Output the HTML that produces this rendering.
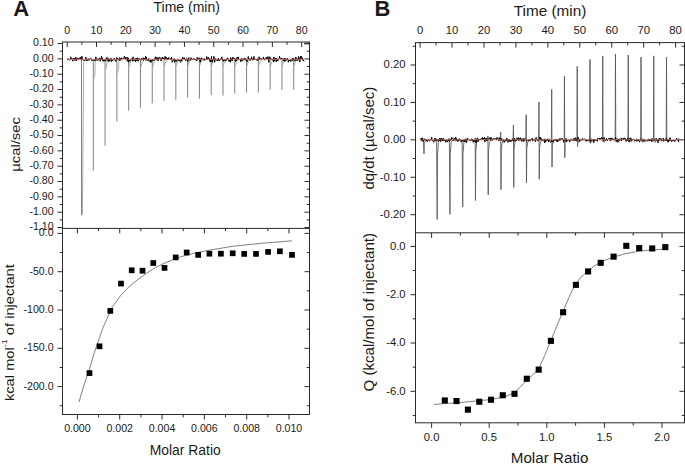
<!DOCTYPE html>
<html><head><meta charset="utf-8"><style>
html,body{margin:0;padding:0;background:#fff;}
body{width:685px;height:464px;overflow:hidden;}
svg{display:block;}
</style></head><body>
<svg width="685" height="464" viewBox="0 0 685 464">
<rect width="685" height="464" fill="#fff"/>
<g font-family='"Liberation Sans", sans-serif' fill="#1a1a1a">
<text x="13.2" y="16" font-size="22" text-anchor="start" font-weight="bold" >A</text>
<text x="374.6" y="16" font-size="22" text-anchor="start" font-weight="bold" >B</text>
<path d="M81.5,59.2 L81.5,215.3" fill="none" stroke="#7a7a7a" stroke-width="0.95"/>
<path d="M81.8,215.3 L82.4,213.3 L83.7,62.2 Q83.9,59.7 86,59.4" fill="none" stroke="#a0a0a0" stroke-width="0.9" stroke-linejoin="round"/>
<path d="M93.29,59.2 L93.29,170.6" fill="none" stroke="#7a7a7a" stroke-width="0.95"/>
<path d="M93.49,79.2 L94.89,75.2 L95.19,61.7 Q95.49,59.7 97.79,59.4" fill="none" stroke="#a0a0a0" stroke-width="0.9" stroke-linejoin="round"/>
<path d="M105.08,59.2 L105.08,145.7" fill="none" stroke="#7a7a7a" stroke-width="0.95"/>
<path d="M105.28,70.2 L106.68,66.2 L106.98,61.7 Q107.28,59.7 109.58,59.4" fill="none" stroke="#a0a0a0" stroke-width="0.9" stroke-linejoin="round"/>
<path d="M116.87,59.2 L116.87,121.6" fill="none" stroke="#7a7a7a" stroke-width="0.95"/>
<path d="M117.07,73.2 L118.47,69.2 L118.77,61.7 Q119.07,59.7 121.37,59.4" fill="none" stroke="#a0a0a0" stroke-width="0.9" stroke-linejoin="round"/>
<path d="M128.66,59.2 L128.66,110.6" fill="none" stroke="#7a7a7a" stroke-width="0.95"/>
<path d="M128.86,67.2 L130.26,63.2 L130.56,61.7 Q130.86,59.7 133.16,59.4" fill="none" stroke="#a0a0a0" stroke-width="0.9" stroke-linejoin="round"/>
<path d="M140.45,59.2 L140.45,107.8" fill="none" stroke="#7a7a7a" stroke-width="0.95"/>
<path d="M140.65,67.2 L142.05,63.2 L142.35,61.7 Q142.65,59.7 144.95,59.4" fill="none" stroke="#a0a0a0" stroke-width="0.9" stroke-linejoin="round"/>
<path d="M152.24,59.2 L152.24,103.4" fill="none" stroke="#7a7a7a" stroke-width="0.95"/>
<path d="M152.44,67.2 L153.84,63.2 L154.14,61.7 Q154.44,59.7 156.74,59.4" fill="none" stroke="#a0a0a0" stroke-width="0.9" stroke-linejoin="round"/>
<path d="M164.03,59.2 L164.03,100.8" fill="none" stroke="#7a7a7a" stroke-width="0.95"/>
<path d="M164.23,66.2 L165.63,62.2 L165.93,61.7 Q166.23,59.7 168.53,59.4" fill="none" stroke="#a0a0a0" stroke-width="0.9" stroke-linejoin="round"/>
<path d="M175.82,59.2 L175.82,99.8" fill="none" stroke="#7a7a7a" stroke-width="0.95"/>
<path d="M176.02,66.2 L177.42,62.2 L177.72,61.7 Q178.02,59.7 180.32,59.4" fill="none" stroke="#a0a0a0" stroke-width="0.9" stroke-linejoin="round"/>
<path d="M187.61,59.2 L187.61,97.6" fill="none" stroke="#7a7a7a" stroke-width="0.95"/>
<path d="M187.81,66.2 L189.21,62.2 L189.51,61.7 Q189.81,59.7 192.11,59.4" fill="none" stroke="#a0a0a0" stroke-width="0.9" stroke-linejoin="round"/>
<path d="M199.4,59.2 L199.4,98.7" fill="none" stroke="#7a7a7a" stroke-width="0.95"/>
<path d="M199.6,66.2 L201,62.2 L201.3,61.7 Q201.6,59.7 203.9,59.4" fill="none" stroke="#a0a0a0" stroke-width="0.9" stroke-linejoin="round"/>
<path d="M211.19,59.2 L211.19,95.2" fill="none" stroke="#7a7a7a" stroke-width="0.95"/>
<path d="M211.39,66.2 L212.79,62.2 L213.09,61.7 Q213.39,59.7 215.69,59.4" fill="none" stroke="#a0a0a0" stroke-width="0.9" stroke-linejoin="round"/>
<path d="M222.98,59.2 L222.98,95.6" fill="none" stroke="#7a7a7a" stroke-width="0.95"/>
<path d="M223.18,66.2 L224.58,62.2 L224.88,61.7 Q225.18,59.7 227.48,59.4" fill="none" stroke="#a0a0a0" stroke-width="0.9" stroke-linejoin="round"/>
<path d="M234.77,59.2 L234.77,93.5" fill="none" stroke="#7a7a7a" stroke-width="0.95"/>
<path d="M234.97,66.2 L236.37,62.2 L236.67,61.7 Q236.97,59.7 239.27,59.4" fill="none" stroke="#a0a0a0" stroke-width="0.9" stroke-linejoin="round"/>
<path d="M246.56,59.2 L246.56,92.5" fill="none" stroke="#7a7a7a" stroke-width="0.95"/>
<path d="M246.76,66.2 L248.16,62.2 L248.46,61.7 Q248.76,59.7 251.06,59.4" fill="none" stroke="#a0a0a0" stroke-width="0.9" stroke-linejoin="round"/>
<path d="M258.35,59.2 L258.35,92.5" fill="none" stroke="#7a7a7a" stroke-width="0.95"/>
<path d="M258.55,66.2 L259.95,62.2 L260.25,61.7 Q260.55,59.7 262.85,59.4" fill="none" stroke="#a0a0a0" stroke-width="0.9" stroke-linejoin="round"/>
<path d="M270.14,59.2 L270.14,89.7" fill="none" stroke="#7a7a7a" stroke-width="0.95"/>
<path d="M270.34,66.2 L271.74,62.2 L272.04,61.7 Q272.34,59.7 274.64,59.4" fill="none" stroke="#a0a0a0" stroke-width="0.9" stroke-linejoin="round"/>
<path d="M281.93,59.2 L281.93,90.1" fill="none" stroke="#7a7a7a" stroke-width="0.95"/>
<path d="M282.13,66.2 L283.53,62.2 L283.83,61.7 Q284.13,59.7 286.43,59.4" fill="none" stroke="#a0a0a0" stroke-width="0.9" stroke-linejoin="round"/>
<path d="M293.72,59.2 L293.72,89.7" fill="none" stroke="#7a7a7a" stroke-width="0.95"/>
<path d="M293.92,66.2 L295.32,62.2 L295.62,61.7 Q295.92,59.7 298.22,59.4" fill="none" stroke="#a0a0a0" stroke-width="0.9" stroke-linejoin="round"/>
<path d="M67.5,59.85 L67.9,58.82 L68.3,58.74 L68.7,59.83 L69.1,59.87 L69.5,59.83 L69.9,60.17 L70.3,59.9 L70.7,56.8 L71.1,58.2 L71.5,58.89 L71.9,58.37 L72.3,59.72 L72.7,61.16 L73.1,60.71 L73.5,58.24 L73.9,58.95 L74.3,59.57 L74.7,58.02 L75.1,60.54 L75.5,59.22 L75.9,57.31 L76.3,60.72 L76.7,58.31 L77.1,57.81 L77.5,58.94 L77.9,59.71 L78.3,60.13 L78.7,59.84 L79.1,57.85 L79.5,58.8 L79.9,57.86 L80.3,58.49 L80.7,57.04 L81.1,59.38 L81.5,60.17 L81.9,56.3 L82.3,58.25 L82.7,60.07 L83.1,59.43 L83.5,59.84 L83.9,60.44 L84.3,60.4 L84.7,60.81 L85.1,60.15 L85.5,58.23 L85.9,57.08 L86.3,60.45 L86.7,60.85 L87.1,58.95 L87.5,60.02 L87.9,60.66 L88.3,58.63 L88.7,59.44 L89.1,60.31 L89.5,59.02 L89.9,59.01 L90.3,58.8 L90.7,58.29 L91.1,58.26 L91.5,60.26 L91.9,60.76 L92.3,59.9 L92.7,60.37 L93.1,59.89 L93.5,59.65 L93.9,60.44 L94.3,60.54 L94.7,59.43 L95.1,60.87 L95.5,60.05 L95.9,56.89 L96.3,59.86 L96.7,59.89 L97.1,60.23 L97.5,58.86 L97.9,60.46 L98.3,59.63 L98.7,59.53 L99.1,58.31 L99.5,57.81 L99.9,60.36 L100.3,61.23 L100.7,58.58 L101.1,59.73 L101.5,56.3 L101.9,57.83 L102.3,57.89 L102.7,61.08 L103.1,59.77 L103.5,59.85 L103.9,61.42 L104.3,59.43 L104.7,58.97 L105.1,60.03 L105.5,61.02 L105.9,60.82 L106.3,57.72 L106.7,58.48 L107.1,57.56 L107.5,60.52 L107.9,58.79 L108.3,58.42 L108.7,61.78 L109.1,61.42 L109.5,59.52 L109.9,60.86 L110.3,58.45 L110.7,59.79 L111.1,58.43 L111.5,61.64 L111.9,59.88 L112.3,60.98 L112.7,59.84 L113.1,59.64 L113.5,58.81 L113.9,59.82 L114.3,58.27 L114.7,60.06 L115.1,60.72 L115.5,60.4 L115.9,61.47 L116.3,60.38 L116.7,57.57 L117.1,59.77 L117.5,58.34 L117.9,58.46 L118.3,58.8 L118.7,59.16 L119.1,60.47 L119.5,57.72 L119.9,60.4 L120.3,58.03 L120.7,60.05 L121.1,60.11 L121.5,57.8 L121.9,58.09 L122.3,58.49 L122.7,58.05 L123.1,58.53 L123.5,58.95 L123.9,58.5 L124.3,56.3 L124.7,58.26 L125.1,57.14 L125.5,57.93 L125.9,59.73 L126.3,59.48 L126.7,60.24 L127.1,57.03 L127.5,61.27 L127.9,58.98 L128.3,57.85 L128.7,62.3 L129.1,60.42 L129.5,59.84 L129.9,61.07 L130.3,59.52 L130.7,60.62 L131.1,59.32 L131.5,58.83 L131.9,59.61 L132.3,58.23 L132.7,61.26 L133.1,56.82 L133.5,60.53 L133.9,60.74 L134.3,60.65 L134.7,60.65 L135.1,58.63 L135.5,61.92 L135.9,58.53 L136.3,59.61 L136.7,58.11 L137.1,61.04 L137.5,57.79 L137.9,60.98 L138.3,61.1 L138.7,60.07 L139.1,58.25 L139.5,59.79 L139.9,58.87 L140.3,59.63 L140.7,59.61 L141.1,60.22 L141.5,58.3 L141.9,59.14 L142.3,59.33 L142.7,59.39 L143.1,57.66 L143.5,60.56 L143.9,59.17 L144.3,58.33 L144.7,59.07 L145.1,59.72 L145.5,56.3 L145.9,60.44 L146.3,56.96 L146.7,59.18 L147.1,59.04 L147.5,60.13 L147.9,59.99 L148.3,60.84 L148.7,58.55 L149.1,60.58 L149.5,60.83 L149.9,60.73 L150.3,62.3 L150.7,59.52 L151.1,62.3 L151.5,60.59 L151.9,59.74 L152.3,59.59 L152.7,60.79 L153.1,59.63 L153.5,60.39 L153.9,59.77 L154.3,60.39 L154.7,58.5 L155.1,57.51 L155.5,56.76 L155.9,59.71 L156.3,59.16 L156.7,57.48 L157.1,60.26 L157.5,58.78 L157.9,57.5 L158.3,60.92 L158.7,59.18 L159.1,57.29 L159.5,57.67 L159.9,57.18 L160.3,59.26 L160.7,60.02 L161.1,60.96 L161.5,58.59 L161.9,57.67 L162.3,59.02 L162.7,57.28 L163.1,58.88 L163.5,58.57 L163.9,58.09 L164.3,59.65 L164.7,58.41 L165.1,56.3 L165.5,59.02 L165.9,58.92 L166.3,57.19 L166.7,58.5 L167.1,59.8 L167.5,58.09 L167.9,59.03 L168.3,59.68 L168.7,57.52 L169.1,58.2 L169.5,58.72 L169.9,58.96 L170.3,58.56 L170.7,59.27 L171.1,60 L171.5,57.16 L171.9,59.98 L172.3,62.3 L172.7,61.28 L173.1,60.97 L173.5,59.66 L173.9,58.57 L174.3,58.81 L174.7,62.3 L175.1,59.79 L175.5,59.98 L175.9,59.94 L176.3,60.55 L176.7,61.54 L177.1,59.83 L177.5,59.26 L177.9,59.17 L178.3,59.46 L178.7,60.58 L179.1,59.95 L179.5,60.64 L179.9,59.95 L180.3,61.25 L180.7,62.3 L181.1,60.52 L181.5,59.31 L181.9,61.08 L182.3,57.88 L182.7,57.02 L183.1,58.76 L183.5,58.92 L183.9,57.96 L184.3,57.56 L184.7,59.64 L185.1,59.11 L185.5,59.34 L185.9,60.94 L186.3,59.16 L186.7,58.34 L187.1,58.56 L187.5,59.74 L187.9,61.81 L188.3,59.14 L188.7,57.59 L189.1,59.8 L189.5,60.06 L189.9,59.9 L190.3,60.37 L190.7,57.9 L191.1,57.79 L191.5,59.58 L191.9,59.53 L192.3,59.42 L192.7,59.1 L193.1,58.87 L193.5,58.46 L193.9,60.01 L194.3,59.7 L194.7,58.79 L195.1,59.28 L195.5,60.18 L195.9,59.09 L196.3,59.78 L196.7,60.99 L197.1,57.39 L197.5,59.47 L197.9,60.11 L198.3,58.98 L198.7,58.92 L199.1,57.67 L199.5,59.41 L199.9,59.99 L200.3,62.18 L200.7,58.52 L201.1,60.11 L201.5,57.77 L201.9,59.57 L202.3,58.72 L202.7,59.45 L203.1,58.85 L203.5,60.2 L203.9,58.9 L204.3,58.63 L204.7,60.41 L205.1,59.37 L205.5,59.94 L205.9,59.28 L206.3,59.56 L206.7,56.5 L207.1,59.28 L207.5,59.97 L207.9,58.19 L208.3,57.23 L208.7,58.96 L209.1,59.06 L209.5,58.55 L209.9,61.4 L210.3,62.06 L210.7,59.1 L211.1,60.39 L211.5,56.37 L211.9,60.08 L212.3,62.3 L212.7,59.66 L213.1,60.01 L213.5,58.43 L213.9,56.3 L214.3,59.37 L214.7,62.3 L215.1,59.5 L215.5,58.58 L215.9,60.14 L216.3,59.45 L216.7,60.41 L217.1,59.26 L217.5,59.38 L217.9,60.98 L218.3,58.21 L218.7,60.02 L219.1,61.1 L219.5,60.35 L219.9,59.15 L220.3,60.12 L220.7,58.68 L221.1,59.26 L221.5,58.91 L221.9,56.77 L222.3,60.04 L222.7,59.13 L223.1,61.38 L223.5,60.25 L223.9,59.8 L224.3,59.11 L224.7,59.78 L225.1,61.14 L225.5,59.47 L225.9,60.53 L226.3,60.15 L226.7,59.31 L227.1,57.84 L227.5,57.95 L227.9,58.87 L228.3,60.42 L228.7,58.92 L229.1,61.4 L229.5,59.9 L229.9,60.05 L230.3,62.3 L230.7,57.48 L231.1,60.24 L231.5,60.68 L231.9,58.44 L232.3,60.88 L232.7,58.08 L233.1,56.98 L233.5,58.72 L233.9,58.52 L234.3,58.66 L234.7,58.36 L235.1,60.09 L235.5,61.54 L235.9,58.77 L236.3,60.96 L236.7,58.59 L237.1,57.26 L237.5,59.05 L237.9,59.04 L238.3,56.86 L238.7,59.58 L239.1,59.97 L239.5,59.46 L239.9,59.36 L240.3,58.94 L240.7,61.84 L241.1,59.59 L241.5,58.46 L241.9,60.56 L242.3,60.14 L242.7,61.08 L243.1,58.67 L243.5,59.61 L243.9,58.73 L244.3,60.09 L244.7,57.96 L245.1,59.71 L245.5,60.14 L245.9,58.76 L246.3,60.97 L246.7,59.73 L247.1,61.79 L247.5,60.38 L247.9,59.84 L248.3,56.44 L248.7,59.94 L249.1,58.51 L249.5,59.92 L249.9,60.35 L250.3,60.29 L250.7,59.02 L251.1,59.38 L251.5,56.88 L251.9,60.17 L252.3,60.12 L252.7,60.03 L253.1,58.35 L253.5,59.93 L253.9,56.36 L254.3,59.94 L254.7,58.81 L255.1,59.79 L255.5,59.33 L255.9,59.08 L256.3,59.31 L256.7,59.03 L257.1,60.67 L257.5,58.75 L257.9,60.63 L258.3,59.05 L258.7,59.97 L259.1,56.72 L259.5,59.95 L259.9,59.17 L260.3,59.02 L260.7,58.35 L261.1,58.37 L261.5,59.63 L261.9,59.43 L262.3,58.95 L262.7,59.26 L263.1,58.95 L263.5,56.93 L263.9,59.12 L264.3,58.98 L264.7,60.06 L265.1,60.1 L265.5,59.28 L265.9,58.86 L266.3,57.14 L266.7,59.12 L267.1,58.91 L267.5,58.94 L267.9,56.54 L268.3,57.36 L268.7,62.3 L269.1,59.2 L269.5,58.86 L269.9,56.68 L270.3,60.01 L270.7,58.81 L271.1,59.04 L271.5,59 L271.9,58.97 L272.3,60.02 L272.7,58.9 L273.1,59.34 L273.5,61.88 L273.9,56.93 L274.3,61.29 L274.7,60.62 L275.1,58.57 L275.5,58.52 L275.9,57.92 L276.3,62.06 L276.7,58.62 L277.1,58.61 L277.5,59.69 L277.9,61 L278.3,59.53 L278.7,58.89 L279.1,58.52 L279.5,56.3 L279.9,57.76 L280.3,58.86 L280.7,59.17 L281.1,58.04 L281.5,58.26 L281.9,59.38 L282.3,58.62 L282.7,59.17 L283.1,60.05 L283.5,60.96 L283.9,58.81 L284.3,58.1 L284.7,61.59 L285.1,60.13 L285.5,60.67 L285.9,58.39 L286.3,60.18 L286.7,60.04 L287.1,59.16 L287.5,58.34 L287.9,58.96 L288.3,62.23 L288.7,60.26 L289.1,60.09 L289.5,60.67 L289.9,60.22 L290.3,59.83 L290.7,61.58 L291.1,59.45 L291.5,58.86 L291.9,60.36 L292.3,60.63 L292.7,57.98 L293.1,60.29 L293.5,58.66 L293.9,58.54 L294.3,60.32 L294.7,60.01 L295.1,61.11 L295.5,57.04 L295.9,58.27 L296.3,58.54 L296.7,57.69 L297.1,60.82 L297.5,59.13 L297.9,59.2 L298.3,60.2 L298.7,56.41 L299.1,58.22 L299.5,58.72 L299.9,62.07 L300.3,57.82 L300.7,56.3 L301.1,58.93 L301.5,56.3 L301.9,59.05 L302.3,57.88 L302.7,60.22 L303.1,60.44 L303.5,59.48 L303.9,61.41" fill="none" stroke="#000" stroke-width="1"/>
<line x1="67.5" y1="59.3" x2="303.5" y2="59.3" stroke="#f07878" stroke-width="0.75"/>
<rect x="304" y="42.3" width="5" height="2.3" fill="#999"/>
<rect x="62.5" y="42.0" width="247" height="372.5" fill="none" stroke="#2a2a2a" stroke-width="1.0"/>
<line x1="62.5" y1="228.4" x2="309.5" y2="228.4" stroke="#2a2a2a" stroke-width="1.0"/>
<line x1="67.2" y1="42" x2="67.2" y2="47" stroke="#2a2a2a" stroke-width="1.0"/>
<text x="67.2" y="33.7" font-size="10.6" text-anchor="middle" font-weight="normal" >0</text>
<line x1="81.86" y1="42" x2="81.86" y2="44.8" stroke="#2a2a2a" stroke-width="1.0"/>
<line x1="96.51" y1="42" x2="96.51" y2="47" stroke="#2a2a2a" stroke-width="1.0"/>
<text x="96.51" y="33.7" font-size="10.6" text-anchor="middle" font-weight="normal" >10</text>
<line x1="111.17" y1="42" x2="111.17" y2="44.8" stroke="#2a2a2a" stroke-width="1.0"/>
<line x1="125.82" y1="42" x2="125.82" y2="47" stroke="#2a2a2a" stroke-width="1.0"/>
<text x="125.82" y="33.7" font-size="10.6" text-anchor="middle" font-weight="normal" >20</text>
<line x1="140.48" y1="42" x2="140.48" y2="44.8" stroke="#2a2a2a" stroke-width="1.0"/>
<line x1="155.13" y1="42" x2="155.13" y2="47" stroke="#2a2a2a" stroke-width="1.0"/>
<text x="155.13" y="33.7" font-size="10.6" text-anchor="middle" font-weight="normal" >30</text>
<line x1="169.79" y1="42" x2="169.79" y2="44.8" stroke="#2a2a2a" stroke-width="1.0"/>
<line x1="184.44" y1="42" x2="184.44" y2="47" stroke="#2a2a2a" stroke-width="1.0"/>
<text x="184.44" y="33.7" font-size="10.6" text-anchor="middle" font-weight="normal" >40</text>
<line x1="199.1" y1="42" x2="199.1" y2="44.8" stroke="#2a2a2a" stroke-width="1.0"/>
<line x1="213.75" y1="42" x2="213.75" y2="47" stroke="#2a2a2a" stroke-width="1.0"/>
<text x="213.75" y="33.7" font-size="10.6" text-anchor="middle" font-weight="normal" >50</text>
<line x1="228.41" y1="42" x2="228.41" y2="44.8" stroke="#2a2a2a" stroke-width="1.0"/>
<line x1="243.06" y1="42" x2="243.06" y2="47" stroke="#2a2a2a" stroke-width="1.0"/>
<text x="243.06" y="33.7" font-size="10.6" text-anchor="middle" font-weight="normal" >60</text>
<line x1="257.72" y1="42" x2="257.72" y2="44.8" stroke="#2a2a2a" stroke-width="1.0"/>
<line x1="272.37" y1="42" x2="272.37" y2="47" stroke="#2a2a2a" stroke-width="1.0"/>
<text x="272.37" y="33.7" font-size="10.6" text-anchor="middle" font-weight="normal" >70</text>
<line x1="287.03" y1="42" x2="287.03" y2="44.8" stroke="#2a2a2a" stroke-width="1.0"/>
<line x1="301.68" y1="42" x2="301.68" y2="47" stroke="#2a2a2a" stroke-width="1.0"/>
<text x="301.68" y="33.7" font-size="10.6" text-anchor="middle" font-weight="normal" >80</text>
<text x="186.75" y="11.9" font-size="14" text-anchor="middle" font-weight="normal" >Time (min)</text>
<line x1="57.5" y1="227.53" x2="62.5" y2="227.53" stroke="#2a2a2a" stroke-width="1.0"/>
<line x1="309.5" y1="227.53" x2="304.5" y2="227.53" stroke="#2a2a2a" stroke-width="1.0"/>
<text x="53.6" y="230.43" font-size="10.6" text-anchor="end" font-weight="normal" >-1.10</text>
<line x1="59.7" y1="219.87" x2="62.5" y2="219.87" stroke="#2a2a2a" stroke-width="1.0"/>
<line x1="309.5" y1="219.87" x2="306.7" y2="219.87" stroke="#2a2a2a" stroke-width="1.0"/>
<line x1="57.5" y1="212.2" x2="62.5" y2="212.2" stroke="#2a2a2a" stroke-width="1.0"/>
<line x1="309.5" y1="212.2" x2="304.5" y2="212.2" stroke="#2a2a2a" stroke-width="1.0"/>
<text x="53.6" y="215.1" font-size="10.6" text-anchor="end" font-weight="normal" >-1.00</text>
<line x1="59.7" y1="204.54" x2="62.5" y2="204.54" stroke="#2a2a2a" stroke-width="1.0"/>
<line x1="309.5" y1="204.54" x2="306.7" y2="204.54" stroke="#2a2a2a" stroke-width="1.0"/>
<line x1="57.5" y1="196.87" x2="62.5" y2="196.87" stroke="#2a2a2a" stroke-width="1.0"/>
<line x1="309.5" y1="196.87" x2="304.5" y2="196.87" stroke="#2a2a2a" stroke-width="1.0"/>
<text x="53.6" y="199.77" font-size="10.6" text-anchor="end" font-weight="normal" >-0.90</text>
<line x1="59.7" y1="189.21" x2="62.5" y2="189.21" stroke="#2a2a2a" stroke-width="1.0"/>
<line x1="309.5" y1="189.21" x2="306.7" y2="189.21" stroke="#2a2a2a" stroke-width="1.0"/>
<line x1="57.5" y1="181.54" x2="62.5" y2="181.54" stroke="#2a2a2a" stroke-width="1.0"/>
<line x1="309.5" y1="181.54" x2="304.5" y2="181.54" stroke="#2a2a2a" stroke-width="1.0"/>
<text x="53.6" y="184.44" font-size="10.6" text-anchor="end" font-weight="normal" >-0.80</text>
<line x1="59.7" y1="173.88" x2="62.5" y2="173.88" stroke="#2a2a2a" stroke-width="1.0"/>
<line x1="309.5" y1="173.88" x2="306.7" y2="173.88" stroke="#2a2a2a" stroke-width="1.0"/>
<line x1="57.5" y1="166.21" x2="62.5" y2="166.21" stroke="#2a2a2a" stroke-width="1.0"/>
<line x1="309.5" y1="166.21" x2="304.5" y2="166.21" stroke="#2a2a2a" stroke-width="1.0"/>
<text x="53.6" y="169.11" font-size="10.6" text-anchor="end" font-weight="normal" >-0.70</text>
<line x1="59.7" y1="158.55" x2="62.5" y2="158.55" stroke="#2a2a2a" stroke-width="1.0"/>
<line x1="309.5" y1="158.55" x2="306.7" y2="158.55" stroke="#2a2a2a" stroke-width="1.0"/>
<line x1="57.5" y1="150.88" x2="62.5" y2="150.88" stroke="#2a2a2a" stroke-width="1.0"/>
<line x1="309.5" y1="150.88" x2="304.5" y2="150.88" stroke="#2a2a2a" stroke-width="1.0"/>
<text x="53.6" y="153.78" font-size="10.6" text-anchor="end" font-weight="normal" >-0.60</text>
<line x1="59.7" y1="143.22" x2="62.5" y2="143.22" stroke="#2a2a2a" stroke-width="1.0"/>
<line x1="309.5" y1="143.22" x2="306.7" y2="143.22" stroke="#2a2a2a" stroke-width="1.0"/>
<line x1="57.5" y1="135.55" x2="62.5" y2="135.55" stroke="#2a2a2a" stroke-width="1.0"/>
<line x1="309.5" y1="135.55" x2="304.5" y2="135.55" stroke="#2a2a2a" stroke-width="1.0"/>
<text x="53.6" y="138.45" font-size="10.6" text-anchor="end" font-weight="normal" >-0.50</text>
<line x1="59.7" y1="127.89" x2="62.5" y2="127.89" stroke="#2a2a2a" stroke-width="1.0"/>
<line x1="309.5" y1="127.89" x2="306.7" y2="127.89" stroke="#2a2a2a" stroke-width="1.0"/>
<line x1="57.5" y1="120.22" x2="62.5" y2="120.22" stroke="#2a2a2a" stroke-width="1.0"/>
<line x1="309.5" y1="120.22" x2="304.5" y2="120.22" stroke="#2a2a2a" stroke-width="1.0"/>
<text x="53.6" y="123.12" font-size="10.6" text-anchor="end" font-weight="normal" >-0.40</text>
<line x1="59.7" y1="112.56" x2="62.5" y2="112.56" stroke="#2a2a2a" stroke-width="1.0"/>
<line x1="309.5" y1="112.56" x2="306.7" y2="112.56" stroke="#2a2a2a" stroke-width="1.0"/>
<line x1="57.5" y1="104.89" x2="62.5" y2="104.89" stroke="#2a2a2a" stroke-width="1.0"/>
<line x1="309.5" y1="104.89" x2="304.5" y2="104.89" stroke="#2a2a2a" stroke-width="1.0"/>
<text x="53.6" y="107.79" font-size="10.6" text-anchor="end" font-weight="normal" >-0.30</text>
<line x1="59.7" y1="97.22" x2="62.5" y2="97.22" stroke="#2a2a2a" stroke-width="1.0"/>
<line x1="309.5" y1="97.22" x2="306.7" y2="97.22" stroke="#2a2a2a" stroke-width="1.0"/>
<line x1="57.5" y1="89.56" x2="62.5" y2="89.56" stroke="#2a2a2a" stroke-width="1.0"/>
<line x1="309.5" y1="89.56" x2="304.5" y2="89.56" stroke="#2a2a2a" stroke-width="1.0"/>
<text x="53.6" y="92.46" font-size="10.6" text-anchor="end" font-weight="normal" >-0.20</text>
<line x1="59.7" y1="81.9" x2="62.5" y2="81.9" stroke="#2a2a2a" stroke-width="1.0"/>
<line x1="309.5" y1="81.9" x2="306.7" y2="81.9" stroke="#2a2a2a" stroke-width="1.0"/>
<line x1="57.5" y1="74.23" x2="62.5" y2="74.23" stroke="#2a2a2a" stroke-width="1.0"/>
<line x1="309.5" y1="74.23" x2="304.5" y2="74.23" stroke="#2a2a2a" stroke-width="1.0"/>
<text x="53.6" y="77.13" font-size="10.6" text-anchor="end" font-weight="normal" >-0.10</text>
<line x1="59.7" y1="66.56" x2="62.5" y2="66.56" stroke="#2a2a2a" stroke-width="1.0"/>
<line x1="309.5" y1="66.56" x2="306.7" y2="66.56" stroke="#2a2a2a" stroke-width="1.0"/>
<line x1="57.5" y1="58.9" x2="62.5" y2="58.9" stroke="#2a2a2a" stroke-width="1.0"/>
<line x1="309.5" y1="58.9" x2="304.5" y2="58.9" stroke="#2a2a2a" stroke-width="1.0"/>
<text x="53.6" y="61.8" font-size="10.6" text-anchor="end" font-weight="normal" >0.00</text>
<line x1="59.7" y1="51.23" x2="62.5" y2="51.23" stroke="#2a2a2a" stroke-width="1.0"/>
<line x1="309.5" y1="51.23" x2="306.7" y2="51.23" stroke="#2a2a2a" stroke-width="1.0"/>
<line x1="57.5" y1="43.57" x2="62.5" y2="43.57" stroke="#2a2a2a" stroke-width="1.0"/>
<line x1="309.5" y1="43.57" x2="304.5" y2="43.57" stroke="#2a2a2a" stroke-width="1.0"/>
<text x="53.6" y="46.47" font-size="10.6" text-anchor="end" font-weight="normal" >0.10</text>
<text x="0" y="0" font-size="14.8" text-anchor="middle" font-weight="normal" transform="translate(19.9,144.4) rotate(-90) scale(1,0.9)">&#181;cal/sec</text>
<line x1="77.4" y1="414.5" x2="77.4" y2="419.5" stroke="#2a2a2a" stroke-width="1.0"/>
<line x1="77.4" y1="228.4" x2="77.4" y2="233.4" stroke="#2a2a2a" stroke-width="1.0"/>
<text x="77.4" y="432.4" font-size="10.6" text-anchor="middle" font-weight="normal" >0.000</text>
<line x1="98.56" y1="414.5" x2="98.56" y2="417.3" stroke="#2a2a2a" stroke-width="1.0"/>
<line x1="98.56" y1="228.4" x2="98.56" y2="231.2" stroke="#2a2a2a" stroke-width="1.0"/>
<line x1="119.72" y1="414.5" x2="119.72" y2="419.5" stroke="#2a2a2a" stroke-width="1.0"/>
<line x1="119.72" y1="228.4" x2="119.72" y2="233.4" stroke="#2a2a2a" stroke-width="1.0"/>
<text x="119.72" y="432.4" font-size="10.6" text-anchor="middle" font-weight="normal" >0.002</text>
<line x1="140.88" y1="414.5" x2="140.88" y2="417.3" stroke="#2a2a2a" stroke-width="1.0"/>
<line x1="140.88" y1="228.4" x2="140.88" y2="231.2" stroke="#2a2a2a" stroke-width="1.0"/>
<line x1="162.04" y1="414.5" x2="162.04" y2="419.5" stroke="#2a2a2a" stroke-width="1.0"/>
<line x1="162.04" y1="228.4" x2="162.04" y2="233.4" stroke="#2a2a2a" stroke-width="1.0"/>
<text x="162.04" y="432.4" font-size="10.6" text-anchor="middle" font-weight="normal" >0.004</text>
<line x1="183.2" y1="414.5" x2="183.2" y2="417.3" stroke="#2a2a2a" stroke-width="1.0"/>
<line x1="183.2" y1="228.4" x2="183.2" y2="231.2" stroke="#2a2a2a" stroke-width="1.0"/>
<line x1="204.36" y1="414.5" x2="204.36" y2="419.5" stroke="#2a2a2a" stroke-width="1.0"/>
<line x1="204.36" y1="228.4" x2="204.36" y2="233.4" stroke="#2a2a2a" stroke-width="1.0"/>
<text x="204.36" y="432.4" font-size="10.6" text-anchor="middle" font-weight="normal" >0.006</text>
<line x1="225.52" y1="414.5" x2="225.52" y2="417.3" stroke="#2a2a2a" stroke-width="1.0"/>
<line x1="225.52" y1="228.4" x2="225.52" y2="231.2" stroke="#2a2a2a" stroke-width="1.0"/>
<line x1="246.68" y1="414.5" x2="246.68" y2="419.5" stroke="#2a2a2a" stroke-width="1.0"/>
<line x1="246.68" y1="228.4" x2="246.68" y2="233.4" stroke="#2a2a2a" stroke-width="1.0"/>
<text x="246.68" y="432.4" font-size="10.6" text-anchor="middle" font-weight="normal" >0.008</text>
<line x1="267.84" y1="414.5" x2="267.84" y2="417.3" stroke="#2a2a2a" stroke-width="1.0"/>
<line x1="267.84" y1="228.4" x2="267.84" y2="231.2" stroke="#2a2a2a" stroke-width="1.0"/>
<line x1="289" y1="414.5" x2="289" y2="419.5" stroke="#2a2a2a" stroke-width="1.0"/>
<line x1="289" y1="228.4" x2="289" y2="233.4" stroke="#2a2a2a" stroke-width="1.0"/>
<text x="289" y="432.4" font-size="10.6" text-anchor="middle" font-weight="normal" >0.010</text>
<line x1="57.5" y1="233.4" x2="62.5" y2="233.4" stroke="#2a2a2a" stroke-width="1.0"/>
<line x1="309.5" y1="233.4" x2="304.5" y2="233.4" stroke="#2a2a2a" stroke-width="1.0"/>
<text x="53.6" y="236.3" font-size="10.6" text-anchor="end" font-weight="normal" >0.0</text>
<line x1="59.7" y1="252.55" x2="62.5" y2="252.55" stroke="#2a2a2a" stroke-width="1.0"/>
<line x1="309.5" y1="252.55" x2="306.7" y2="252.55" stroke="#2a2a2a" stroke-width="1.0"/>
<line x1="57.5" y1="271.7" x2="62.5" y2="271.7" stroke="#2a2a2a" stroke-width="1.0"/>
<line x1="309.5" y1="271.7" x2="304.5" y2="271.7" stroke="#2a2a2a" stroke-width="1.0"/>
<text x="53.6" y="274.6" font-size="10.6" text-anchor="end" font-weight="normal" >-50.0</text>
<line x1="59.7" y1="290.85" x2="62.5" y2="290.85" stroke="#2a2a2a" stroke-width="1.0"/>
<line x1="309.5" y1="290.85" x2="306.7" y2="290.85" stroke="#2a2a2a" stroke-width="1.0"/>
<line x1="57.5" y1="310" x2="62.5" y2="310" stroke="#2a2a2a" stroke-width="1.0"/>
<line x1="309.5" y1="310" x2="304.5" y2="310" stroke="#2a2a2a" stroke-width="1.0"/>
<text x="53.6" y="312.9" font-size="10.6" text-anchor="end" font-weight="normal" >-100.0</text>
<line x1="59.7" y1="329.15" x2="62.5" y2="329.15" stroke="#2a2a2a" stroke-width="1.0"/>
<line x1="309.5" y1="329.15" x2="306.7" y2="329.15" stroke="#2a2a2a" stroke-width="1.0"/>
<line x1="57.5" y1="348.3" x2="62.5" y2="348.3" stroke="#2a2a2a" stroke-width="1.0"/>
<line x1="309.5" y1="348.3" x2="304.5" y2="348.3" stroke="#2a2a2a" stroke-width="1.0"/>
<text x="53.6" y="351.2" font-size="10.6" text-anchor="end" font-weight="normal" >-150.0</text>
<line x1="59.7" y1="367.45" x2="62.5" y2="367.45" stroke="#2a2a2a" stroke-width="1.0"/>
<line x1="309.5" y1="367.45" x2="306.7" y2="367.45" stroke="#2a2a2a" stroke-width="1.0"/>
<line x1="57.5" y1="386.6" x2="62.5" y2="386.6" stroke="#2a2a2a" stroke-width="1.0"/>
<line x1="309.5" y1="386.6" x2="304.5" y2="386.6" stroke="#2a2a2a" stroke-width="1.0"/>
<text x="53.6" y="389.5" font-size="10.6" text-anchor="end" font-weight="normal" >-200.0</text>
<line x1="59.7" y1="405.75" x2="62.5" y2="405.75" stroke="#2a2a2a" stroke-width="1.0"/>
<line x1="309.5" y1="405.75" x2="306.7" y2="405.75" stroke="#2a2a2a" stroke-width="1.0"/>
<text x="185.2" y="455.2" font-size="13.9" text-anchor="middle" font-weight="normal" >Molar Ratio</text>
<text x="0" y="0" font-size="14.7" text-anchor="middle" font-weight="normal" transform="translate(14.0,332.6) rotate(-90) scale(1,0.88)">kcal mol<tspan font-size="9" dy="-7.8">-1</tspan><tspan dy="7.8"> of injectant</tspan></text>
<path d="M78.9,402.3 L84,385 L89.5,369 L94.5,352 L99.5,337.5 L103,327.5 L107.1,318.5 L112.2,307.2 L120.9,295.2 L129.5,286.2 L138.1,279.3 L146.7,273.1 L155.3,267.6 L164,263.4 L172.6,259.8 L181.2,256.7 L195,253 L210,250 L232.7,246.3 L260,243.4 L292,240.8" fill="none" stroke="#555" stroke-width="0.75" stroke-linejoin="round"/>
<rect x="86.65" y="370.25" width="5.7" height="5.7" fill="#000"/>
<rect x="96.65" y="343.45" width="5.7" height="5.7" fill="#000"/>
<rect x="107.45" y="308.05" width="5.7" height="5.7" fill="#000"/>
<rect x="118.15" y="280.75" width="5.7" height="5.7" fill="#000"/>
<rect x="128.85" y="267.45" width="5.7" height="5.7" fill="#000"/>
<rect x="139.65" y="267.85" width="5.7" height="5.7" fill="#000"/>
<rect x="150.45" y="260.15" width="5.7" height="5.7" fill="#000"/>
<rect x="161.65" y="265.05" width="5.7" height="5.7" fill="#000"/>
<rect x="172.85" y="254.55" width="5.7" height="5.7" fill="#000"/>
<rect x="183.85" y="249.65" width="5.7" height="5.7" fill="#000"/>
<rect x="195.35" y="252.05" width="5.7" height="5.7" fill="#000"/>
<rect x="206.55" y="250.85" width="5.7" height="5.7" fill="#000"/>
<rect x="218.05" y="250.85" width="5.7" height="5.7" fill="#000"/>
<rect x="229.85" y="250.45" width="5.7" height="5.7" fill="#000"/>
<rect x="241.35" y="251.05" width="5.7" height="5.7" fill="#000"/>
<rect x="253.15" y="251.05" width="5.7" height="5.7" fill="#000"/>
<rect x="265.25" y="249.05" width="5.7" height="5.7" fill="#000"/>
<rect x="277.05" y="248.45" width="5.7" height="5.7" fill="#000"/>
<rect x="289.15" y="252.05" width="5.7" height="5.7" fill="#000"/>
<path d="M423.4,139.8 L424,153.8 L424.3,142.6 L425.2,142.3 Q425.7,140.2 427.7,139.9" fill="none" stroke="#5a5a5a" stroke-width="0.9" stroke-linejoin="round"/>
<path d="M436.6,139.8 L437.2,219.5 L437.5,155.74 L438.4,142.3 Q438.9,140.2 440.9,139.9" fill="none" stroke="#5a5a5a" stroke-width="0.9" stroke-linejoin="round"/>
<path d="M449.36,139.8 L449.96,214.3 L450.26,154.7 L451.16,142.3 Q451.66,140.2 453.66,139.9" fill="none" stroke="#5a5a5a" stroke-width="0.9" stroke-linejoin="round"/>
<path d="M462.11,139.8 L462.71,206.9 L463.01,153.22 L463.91,142.3 Q464.41,140.2 466.41,139.9" fill="none" stroke="#5a5a5a" stroke-width="0.9" stroke-linejoin="round"/>
<path d="M474.87,139.8 L475.17,137.7 L475.47,200.5 L475.77,151.94 L476.67,142.3 Q477.17,140.2 479.17,139.9" fill="none" stroke="#5a5a5a" stroke-width="0.9" stroke-linejoin="round"/>
<path d="M487.62,139.8 L487.92,135.9 L488.22,194.9 L488.52,150.82 L489.42,142.3 Q489.92,140.2 491.92,139.9" fill="none" stroke="#5a5a5a" stroke-width="0.9" stroke-linejoin="round"/>
<path d="M500.38,139.8 L500.68,132 L500.98,189.7 L501.28,149.78 L502.18,142.3 Q502.68,140.2 504.68,139.9" fill="none" stroke="#5a5a5a" stroke-width="0.9" stroke-linejoin="round"/>
<path d="M513.14,139.8 L513.44,125.2 L513.74,187.5 L514.04,149.34 L514.94,142.3 Q515.44,140.2 517.44,139.9" fill="none" stroke="#5a5a5a" stroke-width="0.9" stroke-linejoin="round"/>
<path d="M525.89,139.8 L526.19,114.8 L526.49,182.8 L526.79,148.4 L527.69,142.3 Q528.19,140.2 530.19,139.9" fill="none" stroke="#5a5a5a" stroke-width="0.9" stroke-linejoin="round"/>
<path d="M538.65,139.8 L538.95,102 L539.25,179.2 L539.55,147.68 L540.45,142.3 Q540.95,140.2 542.95,139.9" fill="none" stroke="#5a5a5a" stroke-width="0.9" stroke-linejoin="round"/>
<path d="M551.4,139.8 L551.7,89.4 L552,167 L552.3,145.24 L553.2,142.3 Q553.7,140.2 555.7,139.9" fill="none" stroke="#5a5a5a" stroke-width="0.9" stroke-linejoin="round"/>
<path d="M564.16,139.8 L564.46,76.2 L564.76,157.7 L565.06,143.38 L565.96,142.3 Q566.46,140.2 568.46,139.9" fill="none" stroke="#5a5a5a" stroke-width="0.9" stroke-linejoin="round"/>
<path d="M576.92,139.8 L577.22,66.3 L577.52,146.5 L577.82,141.14 L578.72,142.3 Q579.22,140.2 581.22,139.9" fill="none" stroke="#5a5a5a" stroke-width="0.9" stroke-linejoin="round"/>
<path d="M589.67,139.8 L589.97,59.5 L590.27,143.3 L590.57,140.5 L591.47,142.3 Q591.97,140.2 593.97,139.9" fill="none" stroke="#5a5a5a" stroke-width="0.9" stroke-linejoin="round"/>
<path d="M602.43,139.8 L602.73,55.9 L603.03,142 L603.33,140.24 L604.23,142.3 Q604.73,140.2 606.73,139.9" fill="none" stroke="#5a5a5a" stroke-width="0.9" stroke-linejoin="round"/>
<path d="M615.18,139.8 L615.48,54.1 L615.78,141.6 L616.08,140.16 L616.98,142.3 Q617.48,140.2 619.48,139.9" fill="none" stroke="#5a5a5a" stroke-width="0.9" stroke-linejoin="round"/>
<path d="M627.94,139.8 L628.24,55 L628.54,141.5 L628.84,140.14 L629.74,142.3 Q630.24,140.2 632.24,139.9" fill="none" stroke="#5a5a5a" stroke-width="0.9" stroke-linejoin="round"/>
<path d="M640.7,139.8 L641,57.1 L641.3,141.2 L641.6,140.08 L642.5,142.3 Q643,140.2 645,139.9" fill="none" stroke="#5a5a5a" stroke-width="0.9" stroke-linejoin="round"/>
<path d="M653.45,139.8 L653.75,55.9 L654.05,141 L654.35,140.04 L655.25,142.3 Q655.75,140.2 657.75,139.9" fill="none" stroke="#5a5a5a" stroke-width="0.9" stroke-linejoin="round"/>
<path d="M666.21,139.8 L666.51,57.1 L666.81,141 L667.11,140.04 L668.01,142.3 Q668.51,140.2 670.51,139.9" fill="none" stroke="#5a5a5a" stroke-width="0.9" stroke-linejoin="round"/>
<path d="M420.1,140.34 L420.5,139.97 L420.9,138.34 L421.3,138 L421.7,140.6 L422.1,141.26 L422.5,137.85 L422.9,141.24 L423.3,139.36 L423.7,141.13 L424.1,140.75 L424.5,139.01 L424.9,138.7 L425.3,139.38 L425.7,140.39 L426.1,139.32 L426.5,140.98 L426.9,140.21 L427.3,141.69 L427.7,140.55 L428.1,139.81 L428.5,139.02 L428.9,140.62 L429.3,140.69 L429.7,141.15 L430.1,139.44 L430.5,139.38 L430.9,139.22 L431.3,140 L431.7,136.99 L432.1,140.29 L432.5,139.89 L432.9,141.09 L433.3,141.38 L433.7,142.32 L434.1,140.44 L434.5,138.43 L434.9,140.94 L435.3,141.22 L435.7,138.24 L436.1,139.15 L436.5,140.36 L436.9,139.53 L437.3,139.72 L437.7,140.76 L438.1,139.38 L438.5,141.33 L438.9,141.03 L439.3,139.1 L439.7,137.97 L440.1,140.31 L440.5,141.58 L440.9,138.11 L441.3,140.85 L441.7,138.44 L442.1,140.92 L442.5,139.61 L442.9,141.03 L443.3,137.96 L443.7,140.57 L444.1,140.99 L444.5,139.77 L444.9,140.43 L445.3,139.9 L445.7,142.25 L446.1,141.26 L446.5,140.66 L446.9,139.47 L447.3,142.08 L447.7,141.04 L448.1,140.58 L448.5,141.14 L448.9,138.66 L449.3,138.81 L449.7,141.1 L450.1,140.65 L450.5,139.25 L450.9,138.74 L451.3,139.86 L451.7,137.26 L452.1,137.94 L452.5,138.55 L452.9,138.79 L453.3,141.07 L453.7,140.55 L454.1,138.25 L454.5,139.22 L454.9,140.19 L455.3,138.74 L455.7,137.1 L456.1,141.07 L456.5,138.63 L456.9,139.34 L457.3,139.89 L457.7,141.46 L458.1,139.61 L458.5,141.14 L458.9,139.43 L459.3,139.44 L459.7,138.58 L460.1,140.76 L460.5,141.15 L460.9,140.48 L461.3,142.09 L461.7,140.14 L462.1,140.92 L462.5,140.16 L462.9,140.55 L463.3,140.35 L463.7,141.55 L464.1,139.55 L464.5,142.03 L464.9,140.41 L465.3,141.57 L465.7,138.79 L466.1,140.17 L466.5,142.79 L466.9,141.03 L467.3,138.13 L467.7,139.96 L468.1,139.52 L468.5,138.95 L468.9,139.25 L469.3,140.41 L469.7,140.03 L470.1,140.13 L470.5,140.84 L470.9,141.11 L471.3,140.32 L471.7,138.7 L472.1,139.1 L472.5,141.11 L472.9,139.54 L473.3,142.34 L473.7,140.4 L474.1,141.15 L474.5,139.96 L474.9,140.96 L475.3,142.39 L475.7,140.83 L476.1,139.44 L476.5,142.66 L476.9,138.99 L477.3,137.88 L477.7,137.97 L478.1,141.69 L478.5,139.35 L478.9,140.18 L479.3,138.98 L479.7,140.01 L480.1,139.45 L480.5,139.53 L480.9,139.32 L481.3,138.41 L481.7,139.65 L482.1,139.64 L482.5,137.43 L482.9,140.03 L483.3,139.33 L483.7,138.14 L484.1,140.01 L484.5,137.24 L484.9,142.05 L485.3,139.1 L485.7,139.2 L486.1,137.91 L486.5,141.14 L486.9,140.17 L487.3,138.7 L487.7,140.38 L488.1,139.78 L488.5,138.55 L488.9,138.59 L489.3,139.45 L489.7,138.83 L490.1,137.32 L490.5,139.87 L490.9,140.5 L491.3,137.57 L491.7,139.97 L492.1,138.9 L492.5,140.29 L492.9,140.16 L493.3,139.63 L493.7,138.42 L494.1,139.46 L494.5,138.94 L494.9,138.46 L495.3,139.11 L495.7,138.64 L496.1,139.24 L496.5,140.08 L496.9,137.49 L497.3,138.9 L497.7,138.24 L498.1,139.48 L498.5,140.84 L498.9,140.74 L499.3,137.41 L499.7,140.25 L500.1,140.04 L500.5,138.67 L500.9,139.61 L501.3,140.45 L501.7,138.41 L502.1,139.94 L502.5,140.23 L502.9,139.26 L503.3,140.05 L503.7,140.28 L504.1,142.56 L504.5,141.98 L504.9,140.81 L505.3,139.67 L505.7,139.64 L506.1,141.21 L506.5,138.27 L506.9,139.81 L507.3,138.71 L507.7,140.08 L508.1,142.37 L508.5,139.43 L508.9,140.12 L509.3,139.59 L509.7,141.49 L510.1,141.96 L510.5,140 L510.9,140.82 L511.3,140.1 L511.7,141.36 L512.1,140.82 L512.5,138.68 L512.9,140.57 L513.3,139.13 L513.7,139.27 L514.1,141.35 L514.5,138.08 L514.9,141.18 L515.3,140 L515.7,139.5 L516.1,140.61 L516.5,140.6 L516.9,137.75 L517.3,138.52 L517.7,139.65 L518.1,140.12 L518.5,137.61 L518.9,140.7 L519.3,138.22 L519.7,139.65 L520.1,138.64 L520.5,137.75 L520.9,140.29 L521.3,138.89 L521.7,141.47 L522.1,139.57 L522.5,138.62 L522.9,139.71 L523.3,141.44 L523.7,138.55 L524.1,141.15 L524.5,139.29 L524.9,138.51 L525.3,139.01 L525.7,139.82 L526.1,140.38 L526.5,141.45 L526.9,140.79 L527.3,140.3 L527.7,139.91 L528.1,139.89 L528.5,141.12 L528.9,139.51 L529.3,139.34 L529.7,139.84 L530.1,141.23 L530.5,139.63 L530.9,139.93 L531.3,139.11 L531.7,139.91 L532.1,138.08 L532.5,140.8 L532.9,141.08 L533.3,140.55 L533.7,139.08 L534.1,140.05 L534.5,139.32 L534.9,138.79 L535.3,141.83 L535.7,141.32 L536.1,137.43 L536.5,138.56 L536.9,139.68 L537.3,139.5 L537.7,140.47 L538.1,141.13 L538.5,139.09 L538.9,140.09 L539.3,138.68 L539.7,137.34 L540.1,140.21 L540.5,137.4 L540.9,139.07 L541.3,138.58 L541.7,140.4 L542.1,140.38 L542.5,139.78 L542.9,140.36 L543.3,139.61 L543.7,139.05 L544.1,140.85 L544.5,142.82 L544.9,138.82 L545.3,141.48 L545.7,142.29 L546.1,139.53 L546.5,140.74 L546.9,139.32 L547.3,139.81 L547.7,140.57 L548.1,138.71 L548.5,142.07 L548.9,141.33 L549.3,140.97 L549.7,139.44 L550.1,141.44 L550.5,142.21 L550.9,142.48 L551.3,141.62 L551.7,139.89 L552.1,140.36 L552.5,140.9 L552.9,142.21 L553.3,140.18 L553.7,140.82 L554.1,140.05 L554.5,139.27 L554.9,140.13 L555.3,139.24 L555.7,140.18 L556.1,139.05 L556.5,141.33 L556.9,139.9 L557.3,139.86 L557.7,141.94 L558.1,139.43 L558.5,140.39 L558.9,139.1 L559.3,140.63 L559.7,138.51 L560.1,138.45 L560.5,140.23 L560.9,138.71 L561.3,139.46 L561.7,138.99 L562.1,138.31 L562.5,140.07 L562.9,139.57 L563.3,139.67 L563.7,142.29 L564.1,140.68 L564.5,141 L564.9,140.23 L565.3,140.33 L565.7,141.34 L566.1,138.26 L566.5,141.61 L566.9,140.99 L567.3,141.03 L567.7,140.01 L568.1,139.9 L568.5,139.9 L568.9,139.93 L569.3,140.56 L569.7,142.08 L570.1,140.21 L570.5,139.34 L570.9,140.47 L571.3,139.36 L571.7,139.45 L572.1,138.89 L572.5,140.38 L572.9,139.95 L573.3,140.43 L573.7,140.12 L574.1,138.25 L574.5,140.85 L574.9,139.08 L575.3,137.71 L575.7,140.55 L576.1,138.84 L576.5,141.14 L576.9,138.66 L577.3,140.7 L577.7,140.4 L578.1,137.2 L578.5,137.78 L578.9,140.46 L579.3,139.82 L579.7,141.53 L580.1,139.36 L580.5,139.93 L580.9,140.28 L581.3,139.98 L581.7,139.91 L582.1,139.88 L582.5,138.41 L582.9,140.26 L583.3,139.56 L583.7,139.3 L584.1,138.91 L584.5,138.94 L584.9,139.21 L585.3,139.36 L585.7,141.08 L586.1,140.88 L586.5,139.76 L586.9,141.28 L587.3,139.77 L587.7,140.39 L588.1,140.99 L588.5,140.66 L588.9,140.83 L589.3,138.95 L589.7,139.19 L590.1,141.63 L590.5,140.03 L590.9,138.74 L591.3,140.32 L591.7,140.97 L592.1,140.48 L592.5,139.86 L592.9,139.29 L593.3,139.23 L593.7,142.76 L594.1,141.35 L594.5,140 L594.9,139.01 L595.3,140.49 L595.7,140.37 L596.1,140.36 L596.5,139.77 L596.9,141.09 L597.3,141.32 L597.7,138.23 L598.1,138.62 L598.5,138 L598.9,138.6 L599.3,138.25 L599.7,139.73 L600.1,139.94 L600.5,138.57 L600.9,139.47 L601.3,138.82 L601.7,137.35 L602.1,138.76 L602.5,139.66 L602.9,138.48 L603.3,140.16 L603.7,139.9 L604.1,137.4 L604.5,139.33 L604.9,140.37 L605.3,140.91 L605.7,139.48 L606.1,139.45 L606.5,138.4 L606.9,140.05 L607.3,140.82 L607.7,139.87 L608.1,139.1 L608.5,139.1 L608.9,138.28 L609.3,138.95 L609.7,138.16 L610.1,140.28 L610.5,141.12 L610.9,137.83 L611.3,140 L611.7,140.08 L612.1,137.96 L612.5,139.13 L612.9,139.79 L613.3,139.53 L613.7,138.85 L614.1,140.3 L614.5,139.67 L614.9,139.79 L615.3,139.08 L615.7,137.33 L616.1,139.7 L616.5,141.19 L616.9,139.97 L617.3,140.73 L617.7,138.75 L618.1,142.23 L618.5,139.24 L618.9,140.26 L619.3,140.83 L619.7,139.59 L620.1,138.57 L620.5,139.11 L620.9,139.52 L621.3,141.12 L621.7,138.14 L622.1,138.37 L622.5,139.62 L622.9,138.81 L623.3,139.95 L623.7,138.93 L624.1,137.75 L624.5,139.32 L624.9,138.44 L625.3,138.46 L625.7,140.39 L626.1,141.47 L626.5,139.36 L626.9,140 L627.3,140.92 L627.7,138.23 L628.1,139.95 L628.5,139.82 L628.9,139.05 L629.3,141.93 L629.7,139.01 L630.1,137.75 L630.5,139.06 L630.9,140.27 L631.3,138.53 L631.7,141.34 L632.1,139.18 L632.5,139.86 L632.9,139.78 L633.3,139.38 L633.7,139.31 L634.1,139.15 L634.5,139.65 L634.9,141.25 L635.3,140.39 L635.7,140.67 L636.1,140.14 L636.5,138.89 L636.9,141.4 L637.3,140.59 L637.7,139.63 L638.1,140.42 L638.5,139.16 L638.9,140.99 L639.3,141.19 L639.7,142.13 L640.1,139.42 L640.5,139.59 L640.9,138.65 L641.3,138.93 L641.7,140.31 L642.1,139.15 L642.5,139.35 L642.9,139.4 L643.3,141.42 L643.7,140.44 L644.1,138.91 L644.5,139.65 L644.9,141.58 L645.3,141.02 L645.7,140.74 L646.1,140.68 L646.5,140.1 L646.9,140.42 L647.3,141.22 L647.7,141.01 L648.1,139.2 L648.5,139.02 L648.9,141.14 L649.3,141.01 L649.7,139.56 L650.1,140.89 L650.5,139.18 L650.9,139.23 L651.3,139.44 L651.7,141.91 L652.1,138.45 L652.5,140.27 L652.9,140.83 L653.3,141.09 L653.7,140.46 L654.1,139.54 L654.5,138.98 L654.9,139.27 L655.3,140.41 L655.7,139.81 L656.1,138.35 L656.5,140.28 L656.9,138.94 L657.3,140.48 L657.7,141.72 L658.1,142.84 L658.5,139.9 L658.9,139.16 L659.3,138.06 L659.7,140.53 L660.1,139.87 L660.5,139.77 L660.9,138.27 L661.3,139.21 L661.7,140.94 L662.1,140.61 L662.5,139.86 L662.9,139.75 L663.3,138.02 L663.7,141.28 L664.1,139.91 L664.5,139.76 L664.9,140.54 L665.3,140.37 L665.7,140.48 L666.1,138.25 L666.5,140.67 L666.9,139.51 L667.3,139.47 L667.7,141.91 L668.1,141.05 L668.5,141.48 L668.9,138.86 L669.3,141.09 L669.7,138.81 L670.1,137.57 L670.5,140.42 L670.9,140.32 L671.3,140.27 L671.7,141.66 L672.1,140.09 L672.5,140.9 L672.9,140.24 L673.3,139.87 L673.7,140.09 L674.1,141.31 L674.5,140.43 L674.9,141.47 L675.3,140.66 L675.7,140.22 L676.1,139.69 L676.5,138.14 L676.9,139.19 L677.3,140.49 L677.7,140.59 L678.1,139.51 L678.5,141.78 L678.9,138.46" fill="none" stroke="#000" stroke-width="1"/>
<line x1="420.1" y1="139.8" x2="678.5" y2="139.8" stroke="#f07878" stroke-width="0.75"/>
<rect x="415.5" y="42.6" width="269" height="380.2" fill="none" stroke="#2a2a2a" stroke-width="1.0"/>
<line x1="415.5" y1="232.8" x2="684.5" y2="232.8" stroke="#2a2a2a" stroke-width="1.0"/>
<line x1="420.1" y1="42.6" x2="420.1" y2="47.6" stroke="#2a2a2a" stroke-width="1.0"/>
<text x="420.1" y="34" font-size="11.3" text-anchor="middle" font-weight="normal" >0</text>
<line x1="436.07" y1="42.6" x2="436.07" y2="45.4" stroke="#2a2a2a" stroke-width="1.0"/>
<line x1="452.04" y1="42.6" x2="452.04" y2="47.6" stroke="#2a2a2a" stroke-width="1.0"/>
<text x="452.04" y="34" font-size="11.3" text-anchor="middle" font-weight="normal" >10</text>
<line x1="468.01" y1="42.6" x2="468.01" y2="45.4" stroke="#2a2a2a" stroke-width="1.0"/>
<line x1="483.98" y1="42.6" x2="483.98" y2="47.6" stroke="#2a2a2a" stroke-width="1.0"/>
<text x="483.98" y="34" font-size="11.3" text-anchor="middle" font-weight="normal" >20</text>
<line x1="499.95" y1="42.6" x2="499.95" y2="45.4" stroke="#2a2a2a" stroke-width="1.0"/>
<line x1="515.92" y1="42.6" x2="515.92" y2="47.6" stroke="#2a2a2a" stroke-width="1.0"/>
<text x="515.92" y="34" font-size="11.3" text-anchor="middle" font-weight="normal" >30</text>
<line x1="531.89" y1="42.6" x2="531.89" y2="45.4" stroke="#2a2a2a" stroke-width="1.0"/>
<line x1="547.86" y1="42.6" x2="547.86" y2="47.6" stroke="#2a2a2a" stroke-width="1.0"/>
<text x="547.86" y="34" font-size="11.3" text-anchor="middle" font-weight="normal" >40</text>
<line x1="563.83" y1="42.6" x2="563.83" y2="45.4" stroke="#2a2a2a" stroke-width="1.0"/>
<line x1="579.8" y1="42.6" x2="579.8" y2="47.6" stroke="#2a2a2a" stroke-width="1.0"/>
<text x="579.8" y="34" font-size="11.3" text-anchor="middle" font-weight="normal" >50</text>
<line x1="595.77" y1="42.6" x2="595.77" y2="45.4" stroke="#2a2a2a" stroke-width="1.0"/>
<line x1="611.74" y1="42.6" x2="611.74" y2="47.6" stroke="#2a2a2a" stroke-width="1.0"/>
<text x="611.74" y="34" font-size="11.3" text-anchor="middle" font-weight="normal" >60</text>
<line x1="627.71" y1="42.6" x2="627.71" y2="45.4" stroke="#2a2a2a" stroke-width="1.0"/>
<line x1="643.68" y1="42.6" x2="643.68" y2="47.6" stroke="#2a2a2a" stroke-width="1.0"/>
<text x="643.68" y="34" font-size="11.3" text-anchor="middle" font-weight="normal" >70</text>
<line x1="659.65" y1="42.6" x2="659.65" y2="45.4" stroke="#2a2a2a" stroke-width="1.0"/>
<line x1="675.62" y1="42.6" x2="675.62" y2="47.6" stroke="#2a2a2a" stroke-width="1.0"/>
<text x="675.62" y="34" font-size="11.3" text-anchor="middle" font-weight="normal" >80</text>
<text x="550" y="15.6" font-size="15.3" text-anchor="middle" font-weight="normal" >Time (min)</text>
<line x1="410.5" y1="214.71" x2="415.5" y2="214.71" stroke="#2a2a2a" stroke-width="1.0"/>
<line x1="684.5" y1="214.71" x2="679.5" y2="214.71" stroke="#2a2a2a" stroke-width="1.0"/>
<text x="405.6" y="218.01" font-size="11.3" text-anchor="end" font-weight="normal" >-0.20</text>
<line x1="412.7" y1="196" x2="415.5" y2="196" stroke="#2a2a2a" stroke-width="1.0"/>
<line x1="684.5" y1="196" x2="681.7" y2="196" stroke="#2a2a2a" stroke-width="1.0"/>
<line x1="410.5" y1="177.28" x2="415.5" y2="177.28" stroke="#2a2a2a" stroke-width="1.0"/>
<line x1="684.5" y1="177.28" x2="679.5" y2="177.28" stroke="#2a2a2a" stroke-width="1.0"/>
<text x="405.6" y="180.58" font-size="11.3" text-anchor="end" font-weight="normal" >-0.10</text>
<line x1="412.7" y1="158.56" x2="415.5" y2="158.56" stroke="#2a2a2a" stroke-width="1.0"/>
<line x1="684.5" y1="158.56" x2="681.7" y2="158.56" stroke="#2a2a2a" stroke-width="1.0"/>
<line x1="410.5" y1="139.85" x2="415.5" y2="139.85" stroke="#2a2a2a" stroke-width="1.0"/>
<line x1="684.5" y1="139.85" x2="679.5" y2="139.85" stroke="#2a2a2a" stroke-width="1.0"/>
<text x="405.6" y="143.15" font-size="11.3" text-anchor="end" font-weight="normal" >0.00</text>
<line x1="412.7" y1="121.13" x2="415.5" y2="121.13" stroke="#2a2a2a" stroke-width="1.0"/>
<line x1="684.5" y1="121.13" x2="681.7" y2="121.13" stroke="#2a2a2a" stroke-width="1.0"/>
<line x1="410.5" y1="102.42" x2="415.5" y2="102.42" stroke="#2a2a2a" stroke-width="1.0"/>
<line x1="684.5" y1="102.42" x2="679.5" y2="102.42" stroke="#2a2a2a" stroke-width="1.0"/>
<text x="405.6" y="105.72" font-size="11.3" text-anchor="end" font-weight="normal" >0.10</text>
<line x1="412.7" y1="83.7" x2="415.5" y2="83.7" stroke="#2a2a2a" stroke-width="1.0"/>
<line x1="684.5" y1="83.7" x2="681.7" y2="83.7" stroke="#2a2a2a" stroke-width="1.0"/>
<line x1="410.5" y1="64.99" x2="415.5" y2="64.99" stroke="#2a2a2a" stroke-width="1.0"/>
<line x1="684.5" y1="64.99" x2="679.5" y2="64.99" stroke="#2a2a2a" stroke-width="1.0"/>
<text x="405.6" y="68.29" font-size="11.3" text-anchor="end" font-weight="normal" >0.20</text>
<line x1="412.7" y1="46.27" x2="415.5" y2="46.27" stroke="#2a2a2a" stroke-width="1.0"/>
<line x1="684.5" y1="46.27" x2="681.7" y2="46.27" stroke="#2a2a2a" stroke-width="1.0"/>
<text x="0" y="0" font-size="15" text-anchor="middle" font-weight="normal" transform="translate(373.7,138.2) rotate(-90)">dq/dt (&#181;cal/sec)</text>
<line x1="431.6" y1="422.8" x2="431.6" y2="427.8" stroke="#2a2a2a" stroke-width="1.0"/>
<line x1="431.6" y1="232.8" x2="431.6" y2="237.8" stroke="#2a2a2a" stroke-width="1.0"/>
<text x="431.6" y="441" font-size="11.3" text-anchor="middle" font-weight="normal" >0.0</text>
<line x1="460.4" y1="422.8" x2="460.4" y2="425.6" stroke="#2a2a2a" stroke-width="1.0"/>
<line x1="460.4" y1="232.8" x2="460.4" y2="235.6" stroke="#2a2a2a" stroke-width="1.0"/>
<line x1="489.2" y1="422.8" x2="489.2" y2="427.8" stroke="#2a2a2a" stroke-width="1.0"/>
<line x1="489.2" y1="232.8" x2="489.2" y2="237.8" stroke="#2a2a2a" stroke-width="1.0"/>
<text x="489.2" y="441" font-size="11.3" text-anchor="middle" font-weight="normal" >0.5</text>
<line x1="518" y1="422.8" x2="518" y2="425.6" stroke="#2a2a2a" stroke-width="1.0"/>
<line x1="518" y1="232.8" x2="518" y2="235.6" stroke="#2a2a2a" stroke-width="1.0"/>
<line x1="546.8" y1="422.8" x2="546.8" y2="427.8" stroke="#2a2a2a" stroke-width="1.0"/>
<line x1="546.8" y1="232.8" x2="546.8" y2="237.8" stroke="#2a2a2a" stroke-width="1.0"/>
<text x="546.8" y="441" font-size="11.3" text-anchor="middle" font-weight="normal" >1.0</text>
<line x1="575.6" y1="422.8" x2="575.6" y2="425.6" stroke="#2a2a2a" stroke-width="1.0"/>
<line x1="575.6" y1="232.8" x2="575.6" y2="235.6" stroke="#2a2a2a" stroke-width="1.0"/>
<line x1="604.4" y1="422.8" x2="604.4" y2="427.8" stroke="#2a2a2a" stroke-width="1.0"/>
<line x1="604.4" y1="232.8" x2="604.4" y2="237.8" stroke="#2a2a2a" stroke-width="1.0"/>
<text x="604.4" y="441" font-size="11.3" text-anchor="middle" font-weight="normal" >1.5</text>
<line x1="633.2" y1="422.8" x2="633.2" y2="425.6" stroke="#2a2a2a" stroke-width="1.0"/>
<line x1="633.2" y1="232.8" x2="633.2" y2="235.6" stroke="#2a2a2a" stroke-width="1.0"/>
<line x1="662" y1="422.8" x2="662" y2="427.8" stroke="#2a2a2a" stroke-width="1.0"/>
<line x1="662" y1="232.8" x2="662" y2="237.8" stroke="#2a2a2a" stroke-width="1.0"/>
<text x="662" y="441" font-size="11.3" text-anchor="middle" font-weight="normal" >2.0</text>
<line x1="410.5" y1="246.4" x2="415.5" y2="246.4" stroke="#2a2a2a" stroke-width="1.0"/>
<line x1="684.5" y1="246.4" x2="679.5" y2="246.4" stroke="#2a2a2a" stroke-width="1.0"/>
<text x="405.6" y="249.8" font-size="11.3" text-anchor="end" font-weight="normal" >0.0</text>
<line x1="412.7" y1="270.55" x2="415.5" y2="270.55" stroke="#2a2a2a" stroke-width="1.0"/>
<line x1="684.5" y1="270.55" x2="681.7" y2="270.55" stroke="#2a2a2a" stroke-width="1.0"/>
<line x1="410.5" y1="294.7" x2="415.5" y2="294.7" stroke="#2a2a2a" stroke-width="1.0"/>
<line x1="684.5" y1="294.7" x2="679.5" y2="294.7" stroke="#2a2a2a" stroke-width="1.0"/>
<text x="405.6" y="298.1" font-size="11.3" text-anchor="end" font-weight="normal" >-2.0</text>
<line x1="412.7" y1="318.85" x2="415.5" y2="318.85" stroke="#2a2a2a" stroke-width="1.0"/>
<line x1="684.5" y1="318.85" x2="681.7" y2="318.85" stroke="#2a2a2a" stroke-width="1.0"/>
<line x1="410.5" y1="343" x2="415.5" y2="343" stroke="#2a2a2a" stroke-width="1.0"/>
<line x1="684.5" y1="343" x2="679.5" y2="343" stroke="#2a2a2a" stroke-width="1.0"/>
<text x="405.6" y="346.4" font-size="11.3" text-anchor="end" font-weight="normal" >-4.0</text>
<line x1="412.7" y1="367.15" x2="415.5" y2="367.15" stroke="#2a2a2a" stroke-width="1.0"/>
<line x1="684.5" y1="367.15" x2="681.7" y2="367.15" stroke="#2a2a2a" stroke-width="1.0"/>
<line x1="410.5" y1="391.3" x2="415.5" y2="391.3" stroke="#2a2a2a" stroke-width="1.0"/>
<line x1="684.5" y1="391.3" x2="679.5" y2="391.3" stroke="#2a2a2a" stroke-width="1.0"/>
<text x="405.6" y="394.7" font-size="11.3" text-anchor="end" font-weight="normal" >-6.0</text>
<line x1="412.7" y1="415.45" x2="415.5" y2="415.45" stroke="#2a2a2a" stroke-width="1.0"/>
<line x1="684.5" y1="415.45" x2="681.7" y2="415.45" stroke="#2a2a2a" stroke-width="1.0"/>
<text x="549.6" y="462.7" font-size="15.2" text-anchor="middle" font-weight="normal" >Molar Ratio</text>
<text x="0" y="0" font-size="15.1" text-anchor="middle" font-weight="normal" transform="translate(374.2,312.2) rotate(-90) scale(1,0.96)">Q (kcal/mol of injectant)</text>
<path d="M433.8,404.4 L460,402.5 L490,399.6 L505,396.8 L514.2,392.7 L520.5,386.8 L526.6,380.7 L532.5,375.2 L538.7,368.8 L544.7,355.5 L550.7,340.9 L556.7,326.4 L562.8,311.9 L568.8,297.8 L574.9,284.9 L581,277.2 L587.9,271.3 L594,266.2 L600,262.2 L613,257.2 L626,253.6 L640,251 L652,250 L665,249" fill="none" stroke="#555" stroke-width="0.75" stroke-linejoin="round"/>
<rect x="441.75" y="397.4" width="6.1" height="6.1" fill="#000"/>
<rect x="453.45" y="398" width="6.1" height="6.1" fill="#000"/>
<rect x="464.85" y="406.6" width="6.1" height="6.1" fill="#000"/>
<rect x="476.25" y="398.7" width="6.1" height="6.1" fill="#000"/>
<rect x="487.95" y="396.7" width="6.1" height="6.1" fill="#000"/>
<rect x="499.75" y="392.2" width="6.1" height="6.1" fill="#000"/>
<rect x="511.45" y="390.8" width="6.1" height="6.1" fill="#000"/>
<rect x="523.75" y="375.7" width="6.1" height="6.1" fill="#000"/>
<rect x="535.65" y="366.6" width="6.1" height="6.1" fill="#000"/>
<rect x="547.85" y="337.8" width="6.1" height="6.1" fill="#000"/>
<rect x="560.05" y="309.2" width="6.1" height="6.1" fill="#000"/>
<rect x="572.85" y="281.8" width="6.1" height="6.1" fill="#000"/>
<rect x="585.05" y="268.4" width="6.1" height="6.1" fill="#000"/>
<rect x="597.65" y="259.8" width="6.1" height="6.1" fill="#000"/>
<rect x="610.55" y="253.6" width="6.1" height="6.1" fill="#000"/>
<rect x="623.25" y="242.8" width="6.1" height="6.1" fill="#000"/>
<rect x="636.15" y="245.1" width="6.1" height="6.1" fill="#000"/>
<rect x="649.15" y="245.4" width="6.1" height="6.1" fill="#000"/>
<rect x="662.25" y="244.1" width="6.1" height="6.1" fill="#000"/>
</g></svg>
</body></html>
